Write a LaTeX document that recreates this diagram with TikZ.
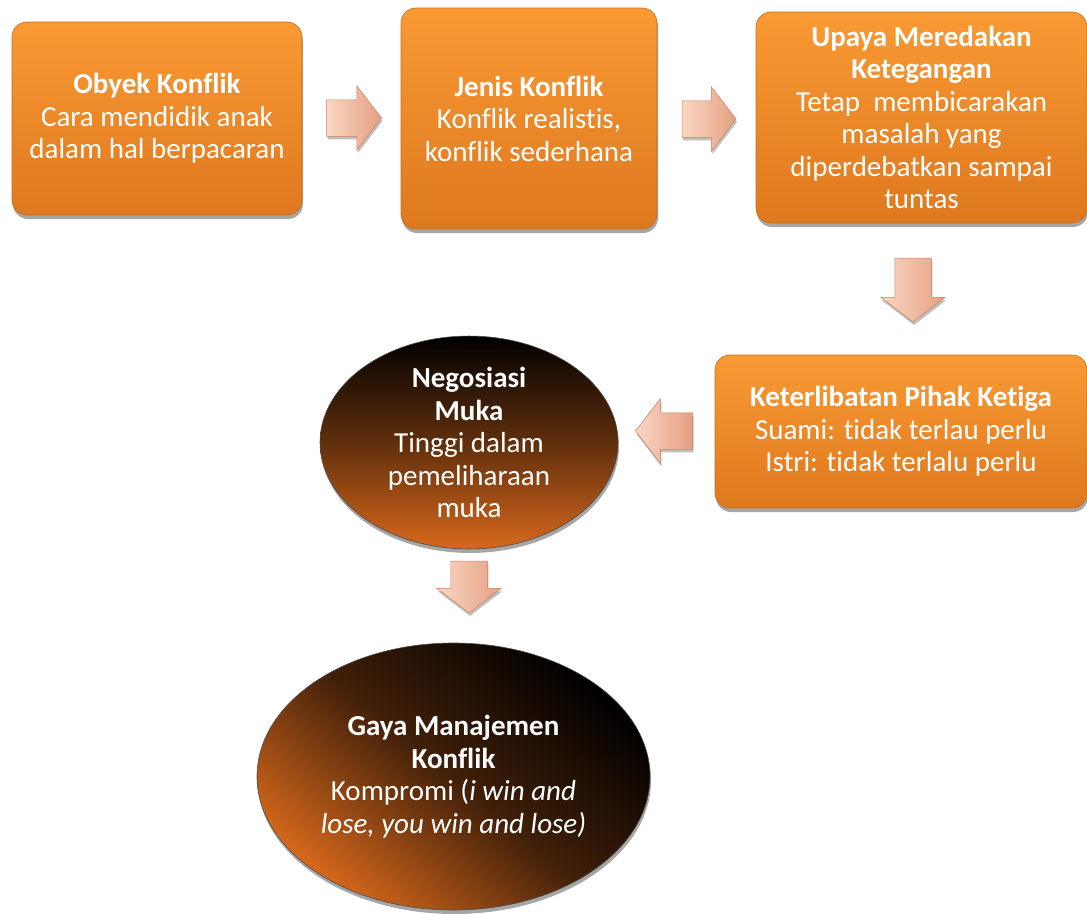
\documentclass[tikz,border=0pt]{standalone}
\usepackage{fontspec}
\setmainfont{Carlito}[Ligatures={NoCommon}]
\usetikzlibrary{shapes.geometric,shapes.arrows,shadows}
\definecolor{boxtop}{RGB}{249,154,52}
\definecolor{boxbot}{RGB}{222,120,30}
\definecolor{elorange}{RGB}{214,104,28}
\definecolor{arrtop}{RGB}{250,214,196}
\definecolor{arrbot}{RGB}{228,160,130}
\definecolor{arredge}{RGB}{200,130,100}
\tikzset{
  txt/.style={text=white,font=\fontsize{29}{32.5}\selectfont,align=center},
  obox/.style={txt,rectangle,rounded corners=15pt,top color=boxtop,bottom color=boxbot,
    draw=boxbot!90!black,line width=0.6pt,
    drop shadow={shadow xshift=1pt,shadow yshift=-4pt,opacity=0.35,fill=black}},
  oell/.style={txt,ellipse,inner sep=0pt,draw=black!70,line width=0.6pt,
    drop shadow={shadow xshift=1pt,shadow yshift=-4pt,opacity=0.35,fill=black}},
  parrow/.style={single arrow,inner sep=18pt,single arrow head extend=14pt,
    single arrow tip angle=105,
    left color=arrtop,right color=arrbot,draw=arredge,line width=0.5pt,
    drop shadow={shadow xshift=1pt,shadow yshift=-3pt,opacity=0.25,fill=black}}
}
\begin{document}
\begin{tikzpicture}[x=1pt,y=-1pt]
\useasboundingbox (0,0) rectangle (1087,913);
% boxes
\node[obox,minimum width=290pt,minimum height=193pt] (b1) at (157,118.5)
  {\textbf{Obyek Konflik}\\Cara mendidik anak\\dalam hal berpacaran};
\node[obox,minimum width=256pt,minimum height=221pt] (b2) at (529,118.5)
  {\textbf{Jenis Konflik}\\Konflik realistis,\\konflik sederhana};
\node[obox,minimum width=331pt,minimum height=211pt] (b3) at (921.5,117.5)
  {\textbf{Upaya Meredakan}\\\textbf{Ketegangan}\\Tetap\ \ membicarakan\\masalah yang\\diperdebatkan sampai\\tuntas};
\node[obox,minimum width=372pt,minimum height=153pt] (b4) at (901,431.5)
  {\textbf{Keterlibatan Pihak Ketiga}\\Suami: tidak terlau perlu\\Istri: tidak terlalu perlu};
% ellipses
\node[oell,minimum width=298pt,minimum height=205pt,
  top color=black,bottom color=elorange,middle color=black!55!elorange] (e1) at (469,442.5)
  {\textbf{Negosiasi}\\\textbf{Muka}\\Tinggi dalam\\pemeliharaan\\muka};
\node[oell,minimum width=393pt,minimum height=267pt,
  top color=black,bottom color=elorange,middle color=black!70!elorange,shading angle=-40] (e2) at (453.5,776.5)
  {\textbf{Gaya Manajemen}\\\textbf{Konflik}\\Kompromi (\textit{i win and}\\\textit{lose, you win and lose)}};
% arrows
\node[parrow,minimum height=55pt] (a1) at (347,118) {};
\node[parrow,minimum height=54pt] (a2) at (702,119) {};
\node[parrow,minimum height=64pt,shape border rotate=270,top color=arrtop,bottom color=arrbot,shading angle=90] (a3) at (913,283) {};
\node[parrow,minimum height=57pt,shape border rotate=180] (a4) at (671,431) {};
\node[parrow,minimum height=52pt,shape border rotate=270,top color=arrtop,bottom color=arrbot,shading angle=90] (a5) at (469,580) {};
\end{tikzpicture}
\end{document}
